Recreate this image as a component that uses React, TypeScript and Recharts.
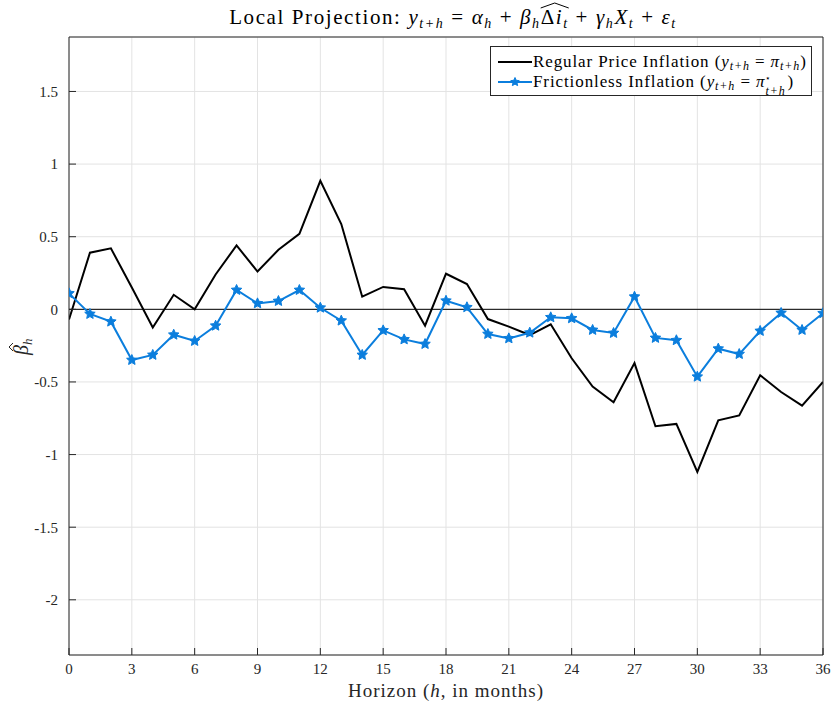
import React, { useLayoutEffect, useRef, useState } from 'react';
import { LineChart, Line, XAxis, YAxis, CartesianGrid, ReferenceLine } from 'recharts';

const horizons = [0, 1, 2, 3, 4, 5, 6, 7, 8, 9, 10, 11, 12, 13, 14, 15, 16, 17, 18, 19, 20, 21, 22, 23, 24, 25, 26, 27, 28, 29, 30, 31, 32, 33, 34, 35, 36];
const regularInflation = [-0.07, 0.39, 0.42, 0.15, -0.125, 0.10, 0.0, 0.24, 0.44, 0.26, 0.41, 0.52, 0.885, 0.587, 0.087, 0.154, 0.138, -0.113, 0.245, 0.174, -0.067, -0.119, -0.177, -0.103, -0.337, -0.532, -0.64, -0.37, -0.805, -0.789, -1.12, -0.764, -0.73, -0.454, -0.569, -0.663, -0.50];
const frictionlessInflation = [0.11, -0.032, -0.085, -0.349, -0.314, -0.175, -0.218, -0.113, 0.133, 0.041, 0.057, 0.133, 0.011, -0.078, -0.314, -0.145, -0.207, -0.239, 0.059, 0.014, -0.17, -0.2, -0.161, -0.055, -0.062, -0.142, -0.163, 0.087, -0.197, -0.213, -0.464, -0.271, -0.308, -0.149, -0.025, -0.142, -0.027];
const xTicks = [0, 3, 6, 9, 12, 15, 18, 21, 24, 27, 30, 33, 36];
const yTicks = [-2, -1.5, -1, -0.5, 0, 0.5, 1, 1.5];

const data = horizons.map((h, i) => ({ h, regular: regularInflation[i], frictionless: frictionlessInflation[i] }));

const BLUE = '#0b7edd';
const AXIS = '#262626';
const FONT = '"Liberation Serif", "Times New Roman", serif';

function starPoints(cx: number, cy: number, R: number, r: number) {
  const pts: string[] = [];
  for (let k = 0; k < 10; k++) {
    const ang = -Math.PI / 2 + (k * Math.PI) / 5;
    const rad = k % 2 === 0 ? R : r;
    pts.push(`${cx + rad * Math.cos(ang)},${cy + rad * Math.sin(ang)}`);
  }
  return pts.join(' ');
}

const StarDot = (props: any) => {
  const { cx, cy, index } = props;
  if (cx == null || cy == null) return null;
  return <polygon key={`s${index}`} points={starPoints(cx, cy, 5.5, 2.6)} fill={BLUE} stroke={BLUE} strokeWidth={1} strokeLinejoin="round" />;
};

function Title() {
  const startRef = useRef<SVGTSpanElement>(null);
  const endRef = useRef<SVGTSpanElement>(null);
  const [hat, setHat] = useState<{ x1: number; x2: number } | null>(null);
  useLayoutEffect(() => {
    try {
      const a = (startRef.current as any).getBBox();
      const b = (endRef.current as any).getBBox();
      setHat({ x1: a.x, x2: b.x + b.width });
    } catch (e) {}
  }, []);
  const sub = { fontSize: 14, fontStyle: 'italic' as const };
  return (
    <g>
      <text x={453} y={24} textAnchor="middle" fontFamily={FONT} fontSize={21} letterSpacing={1.6} fill="#000">
        <tspan>Local Projection: </tspan>
        <tspan fontStyle="italic">y</tspan>
        <tspan dy={4} {...sub}>t+h</tspan>
        <tspan dy={-4}> = </tspan>
        <tspan fontStyle="italic">α</tspan>
        <tspan dy={4} {...sub}>h</tspan>
        <tspan dy={-4}> + </tspan>
        <tspan fontStyle="italic">β</tspan>
        <tspan dy={4} {...sub}>h</tspan>
        <tspan dy={-4} ref={startRef}>Δ</tspan>
        <tspan fontStyle="italic">i</tspan>
        <tspan dy={4} {...sub} ref={endRef}>t</tspan>
        <tspan dy={-4}> + </tspan>
        <tspan fontStyle="italic">γ</tspan>
        <tspan dy={4} {...sub}>h</tspan>
        <tspan dy={-4} fontStyle="italic">X</tspan>
        <tspan dy={4} {...sub}>t</tspan>
        <tspan dy={-4}> + </tspan>
        <tspan fontStyle="italic">ε</tspan>
        <tspan dy={4} {...sub}>t</tspan>
      </text>
      {hat && (
        <path d={`M${hat.x1},8 L${(hat.x1 + hat.x2) / 2},3 L${hat.x2},8`} fill="none" stroke="#000" strokeWidth={1} />
      )}
    </g>
  );
}

function Overlay() {
  return (
    <svg width={832} height={706} style={{ position: 'absolute', left: 0, top: 0, pointerEvents: 'none' }}>
      <Title />
      <text x={446} y={697} textAnchor="middle" fontFamily={FONT} fontSize={19} letterSpacing={1} fill="#262626">
        <tspan>Horizon (</tspan>
        <tspan fontStyle="italic">h</tspan>
        <tspan>, in months)</tspan>
      </text>
      <g transform="translate(28,346) rotate(-90)">
        <text x={-9} y={0} fontFamily={FONT} fontSize={20} fill="#262626">
          <tspan fontStyle="italic">β</tspan>
          <tspan dy={4} fontSize={13} fontStyle="italic">h</tspan>
        </text>
        <path d="M-5,-15 L-1,-19 L3,-15" fill="none" stroke="#262626" strokeWidth={1} />
      </g>
    </svg>
  );
}

function LegendBox() {
  const rowStyle: React.CSSProperties = { display: 'flex', alignItems: 'center', height: 20, whiteSpace: 'nowrap' };
  const subStyle: React.CSSProperties = { fontSize: 12, fontStyle: 'italic', verticalAlign: -3, lineHeight: 0 };
  return (
    <div style={{ position: 'absolute', left: 490, top: 46, width: 322, height: 50, border: `1px solid ${AXIS}`, background: '#fff', fontFamily: FONT, fontSize: 17, letterSpacing: 0.9, color: '#000', padding: '5px 0 0 6px', boxSizing: 'border-box' }}>
      <div style={rowStyle}>
        <svg width={36} height={20}><line x1={1} y1={10} x2={35} y2={10} stroke="#000" strokeWidth={2} /></svg>
        <span>Regular Price Inflation (<i>y</i><span style={subStyle}>t+h</span> = <i>π</i><span style={subStyle}>t+h</span>)</span>
      </div>
      <div style={rowStyle}>
        <svg width={36} height={20}>
          <line x1={1} y1={10} x2={35} y2={10} stroke={BLUE} strokeWidth={2} />
          <polygon points={starPoints(18, 10, 4.5, 2.1)} fill={BLUE} stroke={BLUE} />
        </svg>
        <span style={{ display: 'flex', alignItems: 'center' }}>
          <span>Frictionless Inflation (<i>y</i><span style={subStyle}>t+h</span> = <i>π</i></span>
          <span style={{ display: 'flex', flexDirection: 'column', alignItems: 'flex-start', position: 'relative', top: 3, marginRight: 2 }}>
            <span style={{ fontSize: 9, lineHeight: '11px', height: 11 }}>⋆</span>
            <span style={{ fontSize: 12, lineHeight: '14px', height: 14, fontStyle: 'italic' }}>t+h</span>
          </span>
          <span>)</span>
        </span>
      </div>
    </div>
  );
}

export default function App() {
  return (
    <div style={{ position: 'absolute', left: 0, top: 0, width: 832, height: 706, background: '#fff' }}>
      <LineChart width={832} height={706} data={data} margin={{ top: 36, right: 8, bottom: 0, left: 0 }}>
        <CartesianGrid stroke="#e3e3e3" strokeWidth={1} />
        <XAxis dataKey="h" type="number" domain={[0, 36]} ticks={xTicks} height={51} tickSize={-7} tickMargin={15}
          axisLine={{ stroke: AXIS }} tickLine={{ stroke: AXIS }} tick={{ fill: '#262626', fontFamily: FONT, fontSize: 15 }} interval={0} allowDataOverflow />
        <XAxis xAxisId="top" orientation="top" dataKey="h" type="number" domain={[0, 36]} ticks={xTicks} height={1} tickSize={-7}
          axisLine={{ stroke: AXIS }} tickLine={{ stroke: AXIS }} tick={false} interval={0} />
        <YAxis type="number" domain={[-2.38, 1.875]} ticks={yTicks} width={69} tickSize={-7} tickMargin={18}
          axisLine={{ stroke: AXIS }} tickLine={{ stroke: AXIS }} tick={{ fill: '#262626', fontFamily: FONT, fontSize: 15 }} interval={0} allowDataOverflow />
        <YAxis yAxisId="right" orientation="right" type="number" domain={[-2.38, 1.875]} ticks={yTicks} width={1} tickSize={-7}
          axisLine={{ stroke: AXIS }} tickLine={{ stroke: AXIS }} tick={false} interval={0} allowDataOverflow />
        <ReferenceLine y={0} stroke="#000" strokeWidth={1} />
        <Line type="linear" dataKey="regular" stroke="#000" strokeWidth={2} dot={false} isAnimationActive={false} />
        <Line type="linear" dataKey="frictionless" stroke={BLUE} strokeWidth={2} dot={StarDot} activeDot={false} isAnimationActive={false} />
      </LineChart>
      <LegendBox />
      <Overlay />
    </div>
  );
}
